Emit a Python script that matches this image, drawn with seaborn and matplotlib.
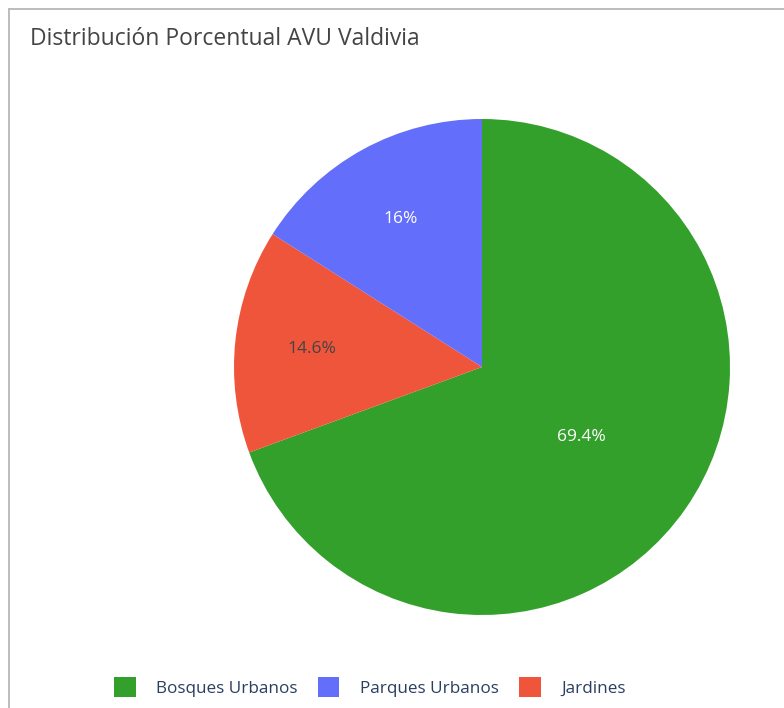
import matplotlib
matplotlib.use("Agg")
import matplotlib.pyplot as plt
import seaborn as sns
import numpy as np
from matplotlib.patches import Patch
from matplotlib.lines import Line2D

# data
categories = ["Bosques Urbanos", "Jardines", "Parques Urbanos"]
values = [69.4, 14.6, 16.0]
legend_order = ["Bosques Urbanos", "Parques Urbanos", "Jardines"]
title = "Distribución Porcentual AVU Valdivia"

colors = {"Bosques Urbanos": "#33a02c", "Parques Urbanos": "#636efa", "Jardines": "#ef553b"}
text_colors = {"Bosques Urbanos": "white", "Parques Urbanos": "white", "Jardines": "#444444"}
label_dist = {"Bosques Urbanos": 0.49, "Parques Urbanos": 0.68, "Jardines": 0.69}

sns.set_theme(style="white")
plt.rcParams["font.family"] = ["Open Sans", "DejaVu Sans"]

W, H = 784, 708
fig = plt.figure(figsize=(W / 100, H / 100), dpi=100)
fig.patch.set_facecolor("white")

cx, cy, r = 482, 367, 248
ax = fig.add_axes([(cx - r) / W, (H - cy - r) / H, 2 * r / W, 2 * r / H])
wedges, texts, autotexts = ax.pie(
    values,
    colors=[colors[c] for c in categories],
    startangle=90,
    counterclock=False,
    autopct=lambda p: f"{p:.1f}%".replace(".0%", "%"),
    radius=1,
    wedgeprops=dict(linewidth=0),
    textprops=dict(fontsize=12.5),
)
for w, t, c in zip(wedges, autotexts, categories):
    ang = np.deg2rad((w.theta1 + w.theta2) / 2)
    d = label_dist[c]
    t.set_position((d * np.cos(ang), d * np.sin(ang)))
    t.set_color(text_colors[c])
ax.set_xlim(-1, 1)
ax.set_ylim(-1, 1)
ax.set_aspect("equal")
ax.axis("off")

fig.text(30 / W, 1 - 39 / H, title, fontsize=16.5, color="#444444", va="center", ha="left")

handles = [Patch(facecolor=colors[c], edgecolor="none", label=c) for c in legend_order]
fig.legend(handles=handles, loc="center", bbox_to_anchor=(370 / W, 1 - 687 / H), ncol=3,
           frameon=False, fontsize=12.3, labelcolor="#2a3f5f", handlelength=1.25, handleheight=1.5,
           handletextpad=1.2, columnspacing=1.2)

fig.add_artist(Line2D([9 / W, 9 / W], [0, 1 - 9 / H], color="#b0b0b0", lw=1.2, transform=fig.transFigure))
fig.add_artist(Line2D([9 / W, 1], [1 - 9 / H, 1 - 9 / H], color="#b0b0b0", lw=1.2, transform=fig.transFigure))

fig.savefig("out.png", dpi=100)
